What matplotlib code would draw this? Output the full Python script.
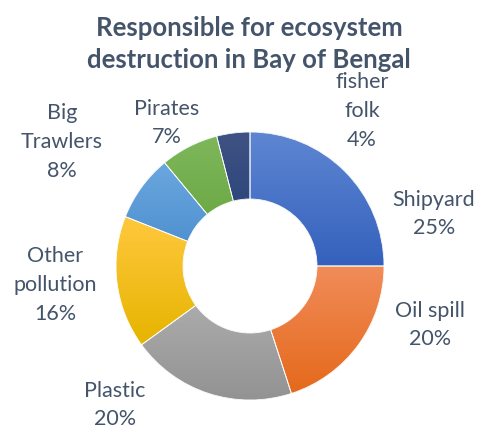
import matplotlib
matplotlib.use("Agg")
import matplotlib.pyplot as plt
import numpy as np
from matplotlib.colors import LinearSegmentedColormap
from matplotlib.patches import Wedge

categories = ["Shipyard", "Oil spill", "Plastic", "Other\npollution", "Big\nTrawlers", "Pirates", "fisher\nfolk"]
values = [25, 20, 20, 16, 8, 7, 4]
pct_labels = ["25%", "20%", "20%", "16%", "8%", "7%", "4%"]

top_colors = ["#5E86D2", "#F18C5A", "#B5B5B5", "#FFC83E", "#6BA7DF", "#7EB75B", "#3F5283"]
bottom_colors = ["#3461BC", "#E5691B", "#929292", "#E6B400", "#478BCB", "#62A139", "#213E77"]

# label centres in pixels (x, y from top)
label_px = [(434, 214), (430, 325), (115, 405), (55, 285), (62, 142), (167, 123), (362, 111)]

W, H = 478, 426
fig = plt.figure(figsize=(W / 100, H / 100), dpi=100)
cx, cy, R = 250, 266, 134
ax = fig.add_axes([(cx - R) / W, (H - cy - R) / H, 2 * R / W, 2 * R / H])
ax.set_xlim(-1, 1)
ax.set_ylim(-1, 1)
ax.set_aspect("equal")
ax.axis("off")

wedges, _ = ax.pie(values, startangle=90, counterclock=False, radius=1.0,
                   wedgeprops=dict(width=0.5, linewidth=0),
                   colors=top_colors)

grad = np.linspace(0, 1, 256).reshape(-1, 1)
for w, tc, bc in zip(wedges, top_colors, bottom_colors):
    verts = w.get_path().vertices
    x0, x1 = verts[:, 0].min(), verts[:, 0].max()
    y0, y1 = verts[:, 1].min(), verts[:, 1].max()
    cmap = LinearSegmentedColormap.from_list("g", [tc, bc])
    im = ax.imshow(grad, cmap=cmap, extent=(x0, x1, y0, y1), origin="upper",
                   aspect="auto", zorder=2, interpolation="bilinear")
    im.set_clip_path(w)
    w.set_zorder(1)

theta = 90.0
for v in values:
    t2 = theta - v * 3.6
    ax.add_patch(Wedge((0, 0), 1.0, t2, theta, width=0.5, facecolor="none",
                       edgecolor="white", linewidth=0.6, zorder=3))
    theta = t2

ax.set_xlim(-1, 1)
ax.set_ylim(-1, 1)

txt_color = "#44546A"
font = ["Lato", "DejaVu Sans"]
for cat, pct, (px, py) in zip(categories, pct_labels, label_px):
    fig.text(px / W, 1 - py / H, cat + "\n" + pct, ha="center", va="center",
             fontsize=15.5, color=txt_color, family=font, linespacing=1.55,
             multialignment="center")

fig.text(249 / W, 1 - 44 / H, "Responsible for ecosystem\ndestruction in Bay of Bengal",
         ha="center", va="center", fontsize=18.5, fontweight="bold",
         color=txt_color, family=font, linespacing=1.42)

fig.savefig("out.png", dpi=100)
